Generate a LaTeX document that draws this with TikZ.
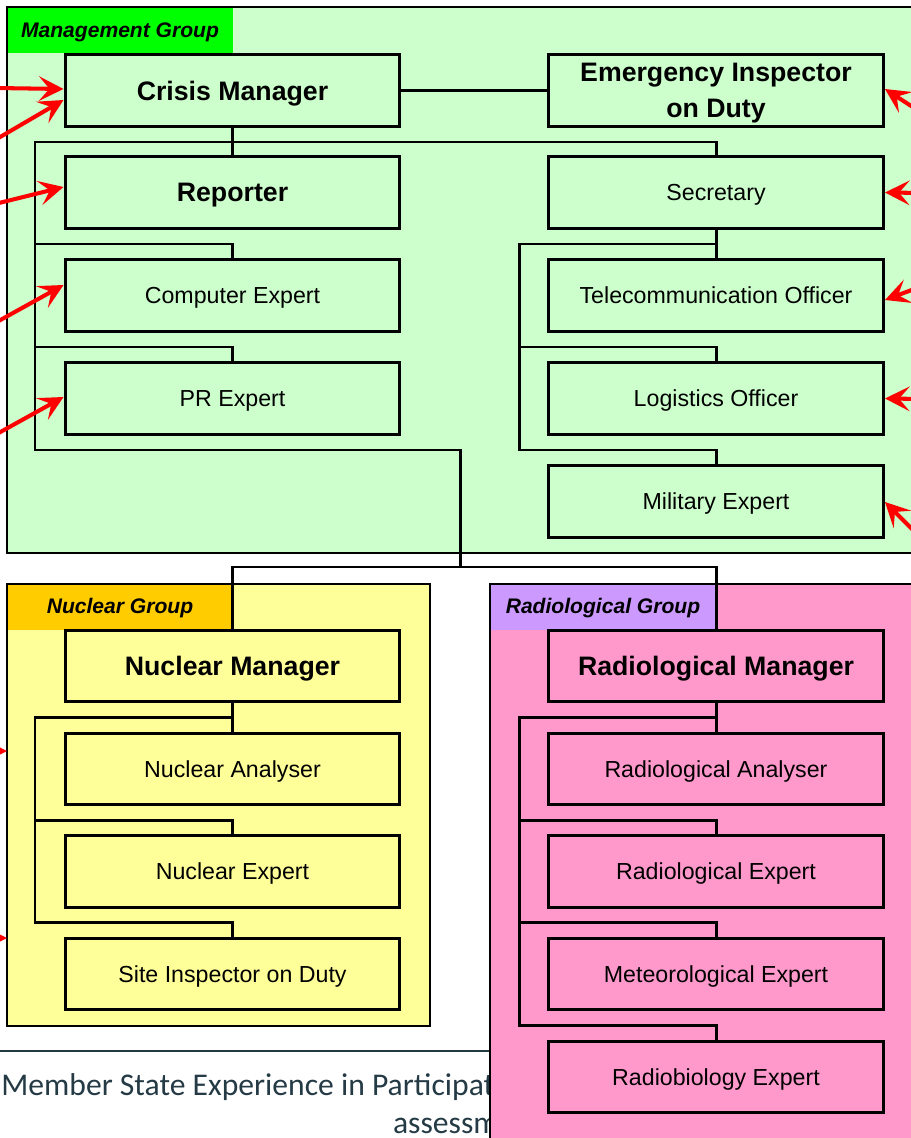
\documentclass[tikz,border=0pt]{standalone}
\usepackage{fontspec}
\setmainfont{Liberation Sans}
\newfontfamily\footfont{Carlito}
\usetikzlibrary{arrows.meta}
\definecolor{mgfill}{HTML}{CCFFCC}
\definecolor{mgtab}{HTML}{00FF00}
\definecolor{nufill}{HTML}{FFFF99}
\definecolor{nutab}{HTML}{FFCC00}
\definecolor{rafill}{HTML}{FF99CC}
\definecolor{ratab}{HTML}{CC99FF}
\definecolor{foot}{HTML}{243A45}
\begin{document}
\begin{tikzpicture}[x=0.02cm, y=-0.02cm,
	role/.style={draw, line width=1.7pt, minimum width=6.7cm, minimum height=1.43cm, inner sep=0pt, text depth=0pt, font=\fontsize{13.2}{16}\selectfont},
	head/.style={role, align=center, font=\fontsize{15.2}{20.5}\selectfont\bfseries},
	grp/.style={font=\fontsize{12}{14}\selectfont\bfseries\itshape},
	link/.style={line width=1.7pt},
	feed/.style={red, line width=2.3pt, -{Stealth[length=14pt, width=14pt, inset=6pt]}}]
	\useasboundingbox (0,0) rectangle (911,1138);
	\draw[foot, line width=0.8pt] (0,1051) -- (490,1051);
	\node[anchor=base west, inner sep=0pt, text=foot, font=\footfont\fontsize{18}{20}\selectfont] (ft1) at (1,1095) {Member State Experience in Participat};
	\node[anchor=base east, inner sep=0pt, text=foot, font=\footfont\fontsize{18}{20}\selectfont] (ft2) at (499,1133) {assessm};
	\fill[mgfill] (7,7) rectangle (930,553);
	\fill[mgtab] (7,7) rectangle (233,53);
	\draw[line width=1.1pt] (930,7) -- (7,7) -- (7,553) -- (930,553);
	\node[grp] (mglab) at (120,32) {Management Group};
	\fill[nufill] (7,584) rectangle (430,1026);
	\fill[nutab] (7,584) rectangle (233,630);
	\draw[line width=1.1pt] (7,584) rectangle (430,1026);
	\node[grp] (nulab) at (120,608) {Nuclear Group};
	\fill[rafill] (490,584) rectangle (930,1160);
	\fill[ratab] (490,584) rectangle (716,630);
	\draw[line width=1.1pt] (930,584) -- (490,584) -- (490,1160);
	\node[grp] (ralab) at (603,608) {Radiological Group};
	\node[head, fill=mgfill] (cm) at (232.5,90.5) {Crisis Manager};
	\node[head, fill=mgfill] (eio) at (716,90.5) {Emergency Inspector\\on Duty};
	\node[head, fill=mgfill] (rep) at (232.5,192.5) {Reporter};
	\foreach \n/\x/\y/\t in {sec/716/192.5/Secretary, ce/232.5/295.5/Computer Expert, tel/716/295.5/Telecommunication Officer, pr/232.5/398.5/PR Expert, log/716/398.5/Logistics Officer, mil/716/501.5/Military Expert}
		\node[role, fill=mgfill] (\n) at (\x,\y) {\t};
	\node[head, fill=nufill] (nm) at (232.5,666) {Nuclear Manager};
	\foreach \n/\y/\t in {na/769/Nuclear Analyser, ne/871.5/Nuclear Expert, si/974/Site Inspector on Duty}
		\node[role, fill=nufill] (\n) at (232.5,\y) {\t};
	\node[head, fill=rafill] (rm) at (716,666) {Radiological Manager};
	\foreach \n/\y/\t in {ra/769/Radiological Analyser, re/871.5/Radiological Expert, me/974/Meteorological Expert, rb/1077/Radiobiology Expert}
		\node[role, fill=rafill] (\n) at (716,\y) {\t};
	\draw[link] (cm) -- (eio);
	\draw[link] (cm.south) -- (rep.north);
	\draw[link] (sec.north) |- (35,142) |- (460,450) -- (460,567);
	\draw[link] (nm.north) -- (nm.north |- 0,567) -| (rm.north);
	\foreach \b/\y in {ce/244, pr/347} \draw[link] (\b.north) |- (35,\y);
	\draw[link] (sec.south) -- (tel.north);
	\draw[link] (sec.south |- 0,244) -| (519,450) -| (mil.north);
	\draw[link] (log.north) |- (519,347);
	\draw[link] (nm.south) -- (na.north);
	\draw[link] (nm.south |- 0,717) -| (35,922) -| (si.north);
	\draw[link] (ne.north) |- (35,820);
	\draw[link] (rm.south) -- (ra.north);
	\draw[link] (rm.south |- 0,717) -| (519,1025) -| (rb.north);
	\foreach \b/\y in {re/820, me/922} \draw[link] (\b.north) |- (519,\y);
	\coordinate (nuin1) at (7,751);
	\coordinate (nuin2) at (7,938);
	\draw[feed] (-5,88) -- (cm.west |- 0,89);
	\draw[feed] (-5,140) -- (cm.west |- 0,100);
	\draw[feed] (-5,204) -- (rep.west |- 0,187);
	\draw[feed] (-5,323) -- (ce.west |- 0,285);
	\draw[feed] (-5,435) -- (pr.west |- 0,397);
	\draw[feed] (-60,751) -- (nuin1);
	\draw[feed] (-60,938) -- (nuin2);
	\draw[feed] (925,115) -- (eio.east |- 0,89);
	\draw[feed] (925,193) -- (sec.east);
	\draw[feed] (925,285) -- (tel.east |- 0,300);
	\draw[feed] (925,399) -- (log.east);
	\draw[feed] (925,542) -- (mil.east |- 0,502);
\end{tikzpicture}
\end{document}
